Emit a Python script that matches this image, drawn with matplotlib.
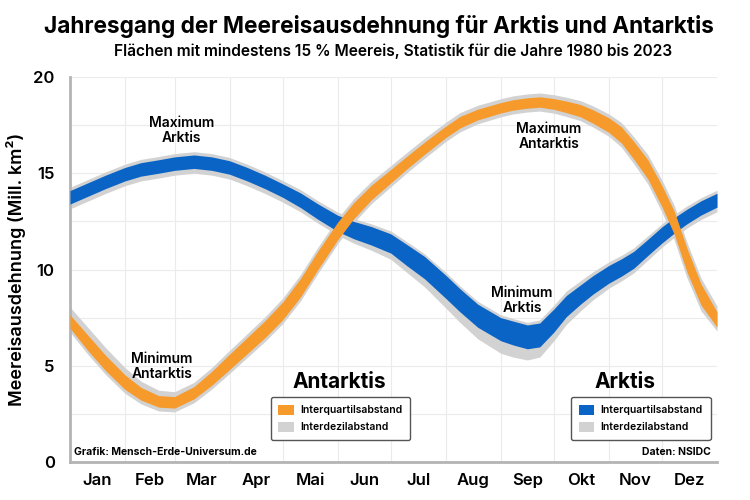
import numpy as np
import matplotlib.pyplot as plt
from matplotlib.patches import Patch

plt.rcParams['font.family'] = ['Inter', 'DejaVu Sans']

monate = ['Jan', 'Feb', 'Mar', 'Apr', 'Mai', 'Jun', 'Jul', 'Aug', 'Sep', 'Okt', 'Nov', 'Dez']
monatsgrenzen = [0, 31, 59, 90, 120, 151, 181, 212, 243, 273, 304, 334, 365]

# Tag im Jahr
tage = [0, 10, 20, 31, 40, 50, 59, 70, 80, 90, 100, 110, 120, 130, 140, 151, 160, 170,
        181, 190, 200, 212, 220, 230, 243, 250, 258, 265, 273, 280, 288, 295, 304, 311,
        318, 326, 334, 341, 348, 356, 365]

# Arktis: Median und Abstaende (Mill. km2)
arktis_median = [13.75, 14.15, 14.55, 14.95, 15.2, 15.35, 15.5, 15.6, 15.5, 15.3, 14.95,
                 14.55, 14.1, 13.6, 13.0, 12.4, 12.05, 11.75, 11.35, 10.75, 10.1, 9.1,
                 8.4, 7.6, 6.9, 6.7, 6.5, 6.6, 7.35, 8.1, 8.7, 9.2, 9.75, 10.1, 10.5,
                 11.15, 11.8, 12.3, 12.75, 13.2, 13.6]
arktis_iqr = [0.35, 0.35, 0.35, 0.35, 0.35, 0.35, 0.35, 0.35, 0.35, 0.35, 0.35, 0.35,
              0.35, 0.38, 0.4, 0.42, 0.45, 0.48, 0.5, 0.55, 0.58, 0.6, 0.6, 0.6, 0.6,
              0.62, 0.62, 0.62, 0.6, 0.55, 0.5, 0.48, 0.46, 0.45, 0.44, 0.42, 0.42,
              0.4, 0.38, 0.37, 0.36]
arktis_p10 = [0.6, 0.6, 0.6, 0.6, 0.6, 0.6, 0.6, 0.6, 0.6, 0.6, 0.6, 0.6, 0.6, 0.6,
              0.6, 0.62, 0.68, 0.75, 0.82, 0.9, 1.0, 1.1, 1.15, 1.2, 1.25, 1.25, 1.2,
              1.15, 1.05, 0.95, 0.85, 0.78, 0.72, 0.7, 0.68, 0.66, 0.64, 0.62, 0.6,
              0.6, 0.6]
arktis_p90 = [0.52, 0.52, 0.52, 0.52, 0.52, 0.52, 0.52, 0.52, 0.52, 0.52, 0.52, 0.52,
              0.52, 0.55, 0.56, 0.58, 0.6, 0.62, 0.65, 0.7, 0.72, 0.75, 0.75, 0.75,
              0.75, 0.75, 0.75, 0.78, 0.8, 0.78, 0.72, 0.68, 0.65, 0.63, 0.62, 0.6,
              0.58, 0.56, 0.55, 0.53, 0.52]

# Antarktis
antarktis_median = [7.3, 6.2, 5.15, 4.15, 3.55, 3.15, 3.1, 3.6, 4.35, 5.2, 6.05, 6.9,
                    7.85, 9.05, 10.5, 12.0, 13.05, 14.0, 14.85, 15.55, 16.3, 17.15,
                    17.65, 18.05, 18.4, 18.55, 18.65, 18.7, 18.6, 18.45, 18.25, 17.95,
                    17.5, 17.0, 16.2, 15.2, 13.8, 12.4, 10.5, 8.7, 7.4]
antarktis_iqr = [0.35, 0.4, 0.4, 0.38, 0.33, 0.3, 0.3, 0.32, 0.36, 0.4, 0.42, 0.44,
                 0.46, 0.48, 0.48, 0.46, 0.42, 0.38, 0.35, 0.33, 0.32, 0.3, 0.3, 0.28,
                 0.27, 0.27, 0.27, 0.27, 0.28, 0.3, 0.32, 0.35, 0.38, 0.42, 0.46, 0.5,
                 0.55, 0.6, 0.62, 0.55, 0.4]
antarktis_p10 = [0.55, 0.6, 0.6, 0.58, 0.53, 0.5, 0.5, 0.52, 0.56, 0.6, 0.62, 0.64,
                 0.66, 0.68, 0.68, 0.66, 0.62, 0.58, 0.55, 0.53, 0.52, 0.5, 0.5, 0.48,
                 0.47, 0.47, 0.47, 0.47, 0.48, 0.5, 0.52, 0.55, 0.58, 0.64, 0.7, 0.76,
                 0.83, 0.9, 0.92, 0.85, 0.6]
antarktis_p90 = [0.75, 0.8, 0.8, 0.75, 0.65, 0.58, 0.55, 0.54, 0.56, 0.6, 0.62, 0.64,
                 0.66, 0.68, 0.68, 0.66, 0.62, 0.58, 0.55, 0.53, 0.52, 0.5, 0.5, 0.48,
                 0.47, 0.47, 0.47, 0.47, 0.48, 0.5, 0.52, 0.55, 0.58, 0.64, 0.7, 0.76,
                 0.83, 0.9, 0.92, 0.85, 0.7]

blau = '#0a64c6'
orange = '#f79a2c'
grau = '#d2d2d2'

fig = plt.figure(figsize=(7.5, 5), dpi=100)
ax = fig.add_axes([0.0933, 0.076, 0.8627, 0.77])

t = np.array(tage)
for med, iqr, p10, p90, farbe in [
        (arktis_median, arktis_iqr, arktis_p10, arktis_p90, blau),
        (antarktis_median, antarktis_iqr, antarktis_p10, antarktis_p90, orange)]:
    med = np.array(med)
    ax.fill_between(t, med - np.array(p10), med + np.array(p90), color=grau, lw=0, zorder=2)
    ax.fill_between(t, med - np.array(iqr), med + np.array(iqr), color=farbe, lw=0, zorder=3)

ax.set_xlim(0, 365)
ax.set_ylim(0, 20)

mitten = [(monatsgrenzen[i] + monatsgrenzen[i + 1]) / 2 for i in range(12)]
ax.set_xticks(mitten)
ax.set_xticklabels(monate)
ax.set_xticks(monatsgrenzen[1:-1], minor=True)
ax.set_yticks([0, 5, 10, 15, 20])
ax.set_yticks([2.5, 7.5, 12.5, 17.5], minor=True)
ax.tick_params(axis='both', which='both', length=0)
ax.tick_params(axis='x', labelsize=12, pad=8)
ax.tick_params(axis='y', labelsize=12, pad=11)
for lab in ax.get_xticklabels() + ax.get_yticklabels():
    lab.set_fontweight('semibold')

ax.grid(True, which='minor', axis='x', color='#ebebeb', lw=0.8, zorder=0)
ax.grid(True, which='both', axis='y', color='#ebebeb', lw=0.8, zorder=0)
ax.set_axisbelow(True)

for s in ['top', 'right']:
    ax.spines[s].set_visible(False)
for s in ['left', 'bottom']:
    ax.spines[s].set_color('#b4b4b4')
    ax.spines[s].set_linewidth(2)

ax.set_ylabel('Meereisausdehnung (Mill. km²)', fontsize=13, fontweight='semibold', labelpad=5)

fig.text(0.505, 0.948, 'Jahresgang der Meereisausdehnung für Arktis und Antarktis',
         ha='center', va='center', fontsize=16.3, fontweight='bold')
fig.text(0.524, 0.898, 'Flächen mit mindestens 15 % Meereis, Statistik für die Jahre 1980 bis 2023',
         ha='center', va='center', fontsize=11.2, fontweight='semibold')

anno = dict(ha='center', va='center', fontsize=10, fontweight='semibold', linespacing=1.1)
ax.text(63, 17.2, 'Maximum\nArktis', **anno)
ax.text(270, 16.9, 'Maximum\nAntarktis', **anno)
ax.text(255, 8.4, 'Minimum\nArktis', **anno)
ax.text(52, 4.95, 'Minimum\nAntarktis', **anno)

ax.text(152, 4.15, 'Antarktis', ha='center', va='center', fontsize=15, fontweight='bold')
ax.text(313, 4.15, 'Arktis', ha='center', va='center', fontsize=15, fontweight='bold')

def legende(farbe, x0):
    handles = [Patch(facecolor=farbe, edgecolor='none', label='Interquartilsabstand'),
               Patch(facecolor=grau, edgecolor='none', label='Interdezilabstand')]
    leg = ax.legend(handles=handles, loc='upper left', bbox_to_anchor=(x0, 0.182),
                    frameon=True, fontsize=7.5, handlelength=1.5, handleheight=1.1,
                    handletextpad=0.6, borderpad=0.75, labelspacing=0.6,
                    fancybox=True, edgecolor='#555555', framealpha=1)
    leg.get_frame().set_linewidth(1)
    for txt in leg.get_texts():
        txt.set_fontweight('semibold')
    return leg

ax.add_artist(legende(orange, 0.302))
legende(blau, 0.766)

ax.text(0.006, 0.012, 'Grafik: Mensch-Erde-Universum.de', transform=ax.transAxes,
        ha='left', va='bottom', fontsize=7.5, fontweight='bold')
ax.text(0.99, 0.012, 'Daten: NSIDC', transform=ax.transAxes,
        ha='right', va='bottom', fontsize=7.5, fontweight='bold')

fig.savefig('out.png', dpi=100)
